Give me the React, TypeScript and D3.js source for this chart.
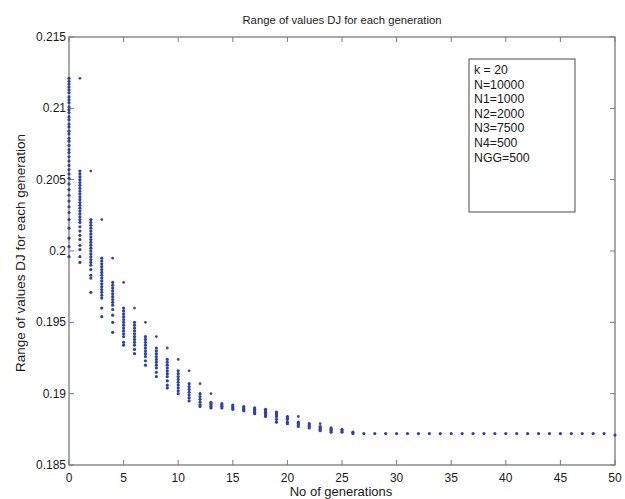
import React, { useEffect, useRef } from "react";
import * as d3 from "d3";

// ---------- data ----------
const titleText = "Range of values DJ for each generation";
const xLabelText = "No of generations";
const yLabelText = "Range of values DJ for each generation";
const legendLines = ["k = 20", "N=10000", "N1=1000", "N2=2000", "N3=7500", "N4=500", "NGG=500"];

const xTicks = [0, 5, 10, 15, 20, 25, 30, 35, 40, 45, 50];
const yTicks = [0.185, 0.19, 0.195, 0.2, 0.205, 0.21, 0.215];
const yTickLabels = ["0.185", "0.19", "0.195", "0.2", "0.205", "0.21", "0.215"];

// population values of DJ for each generation (index = generation)
const populationByGeneration: number[][] = [
  [0.2121, 0.2119, 0.2117, 0.2115, 0.2113, 0.2111, 0.2108, 0.2106, 0.2104, 0.2101, 0.2099, 0.2097, 0.2094, 0.2092, 0.2089, 0.2087, 0.2084, 0.2082, 0.2079, 0.2077, 0.2074, 0.2071, 0.2069, 0.2066, 0.2063, 0.2060, 0.2057, 0.2054, 0.2051, 0.2047, 0.2043, 0.2039, 0.2035, 0.2031, 0.2027, 0.2022, 0.2016, 0.2009, 0.2003, 0.1996],
  [0.2056, 0.2054, 0.2052, 0.2050, 0.2048, 0.2046, 0.2044, 0.2042, 0.2040, 0.2038, 0.2036, 0.2034, 0.2032, 0.2030, 0.2028, 0.2026, 0.2024, 0.2022, 0.2020, 0.2017, 0.2014, 0.2011, 0.2008, 0.2004, 0.2001, 0.1996, 0.1992],
  [0.2022, 0.2020, 0.2018, 0.2016, 0.2014, 0.2012, 0.2010, 0.2008, 0.2006, 0.2004, 0.2002, 0.2000, 0.1998, 0.1996, 0.1994, 0.1992, 0.1990, 0.1987, 0.1983, 0.1981, 0.1971],
  [0.1995, 0.1993, 0.1991, 0.1989, 0.1987, 0.1985, 0.1983, 0.1981, 0.1979, 0.1977, 0.1975, 0.1973, 0.1971, 0.1969, 0.1967, 0.1960, 0.1954],
  [0.1978, 0.1976, 0.1974, 0.1972, 0.1970, 0.1968, 0.1966, 0.1964, 0.1962, 0.1959, 0.1955, 0.1950, 0.1943],
  [0.1960, 0.1958, 0.1956, 0.1954, 0.1952, 0.1950, 0.1948, 0.1946, 0.1944, 0.1942, 0.1940, 0.1936, 0.1934],
  [0.1950, 0.1948, 0.1946, 0.1944, 0.1942, 0.1940, 0.1938, 0.1936, 0.1934, 0.1931, 0.1928],
  [0.1940, 0.1938, 0.1936, 0.1934, 0.1932, 0.1930, 0.1928, 0.1926, 0.1923, 0.1920],
  [0.1932, 0.1930, 0.1928, 0.1926, 0.1924, 0.1922, 0.1920, 0.1918, 0.1915, 0.1912],
  [0.1924, 0.1922, 0.1920, 0.1918, 0.1916, 0.1914, 0.1912, 0.1909, 0.1906, 0.1904],
  [0.1916, 0.1914, 0.1912, 0.1910, 0.1908, 0.1906, 0.1904, 0.1902, 0.1900],
  [0.1907, 0.1905, 0.1903, 0.1901, 0.1899, 0.1897, 0.1895],
  [0.1900, 0.1898, 0.1896, 0.1894, 0.1892, 0.1891],
  [0.1894, 0.1893, 0.1892, 0.1891, 0.1890],
  [0.1893, 0.1892, 0.1891, 0.1890],
  [0.1892, 0.1891, 0.1890, 0.1889],
  [0.1891, 0.1890, 0.1889, 0.1888],
  [0.1890, 0.1889, 0.1888, 0.1887, 0.1886],
  [0.1889, 0.1888, 0.1887, 0.1886, 0.1885, 0.1884],
  [0.1887, 0.1886, 0.1885, 0.1884, 0.1882, 0.1880],
  [0.1884, 0.1883, 0.1882, 0.1880, 0.1879],
  [0.1880, 0.1879, 0.1878, 0.1877],
  [0.1879, 0.1878, 0.1877, 0.1876],
  [0.1877, 0.1876, 0.1875, 0.1874],
  [0.1876, 0.1875, 0.1874, 0.1873],
  [0.1875, 0.1874, 0.1873],
  [0.1873, 0.1872],
  [0.1872], [0.1872], [0.1872], [0.1872], [0.1872], [0.1872], [0.1872], [0.1872],
  [0.1872], [0.1872], [0.1872], [0.1872], [0.1872], [0.1872], [0.1872], [0.1872],
  [0.1872], [0.1872], [0.1872], [0.1872], [0.1872], [0.1872], [0.1872],
  [0.1871],
];

// best individual carried into the next generation
const eliteGenerations = [1, 2, 3, 4, 5, 6, 7, 8, 9, 10, 11, 12, 13, 21, 23];
const eliteValues = [0.2121, 0.2056, 0.2022, 0.1995, 0.1978, 0.1960, 0.1950, 0.1940, 0.1932, 0.1924, 0.1916, 0.1907, 0.1900, 0.1884, 0.1879];

// ---------- chart ----------
const W = 625;
const H = 499;
const FONT = "'Liberation Sans', Arial, Helvetica, sans-serif";

export default function App() {
  const ref = useRef<SVGSVGElement | null>(null);

  useEffect(() => {
    const svg = d3.select(ref.current);
    svg.selectAll("*").remove();

    const x = d3.scaleLinear().domain([0, 50]).range([69, 615]);
    const y = d3.scaleLinear().domain([0.185, 0.215]).range([465, 37]);
    const [x0, x1] = x.range();
    const [y0, y1] = y.range();
    const axisColor = "#7a7a7a";
    const textColor = "#1a1a1a";

    svg.append("rect").attr("width", W).attr("height", H).attr("fill", "#ffffff");

    // frame
    svg.append("rect")
      .attr("x", x0).attr("y", y1)
      .attr("width", x1 - x0).attr("height", y0 - y1)
      .attr("fill", "none").attr("stroke", axisColor).attr("stroke-width", 1.3);

    const tickLen = 5;
    const ticksG = svg.append("g").attr("stroke", axisColor).attr("stroke-width", 1);
    xTicks.forEach((t) => {
      ticksG.append("line").attr("x1", x(t)).attr("x2", x(t)).attr("y1", y0).attr("y2", y0 - tickLen);
      ticksG.append("line").attr("x1", x(t)).attr("x2", x(t)).attr("y1", y1).attr("y2", y1 + tickLen);
    });
    yTicks.forEach((t) => {
      ticksG.append("line").attr("x1", x0).attr("x2", x0 + tickLen).attr("y1", y(t)).attr("y2", y(t));
      ticksG.append("line").attr("x1", x1).attr("x2", x1 - tickLen).attr("y1", y(t)).attr("y2", y(t));
    });

    // tick labels
    const lab = svg.append("g").attr("font-family", FONT).attr("font-size", 12).attr("fill", textColor);
    xTicks.forEach((t) => {
      lab.append("text").attr("x", x(t)).attr("y", y0 + 17).attr("text-anchor", "middle").text(String(t));
    });
    yTicks.forEach((t, i) => {
      lab.append("text").attr("x", x0 - 3).attr("y", y(t) + 4).attr("text-anchor", "end").text(yTickLabels[i]);
    });

    // titles
    svg.append("text")
      .attr("x", (x0 + x1) / 2).attr("y", 24)
      .attr("text-anchor", "middle").attr("font-family", FONT).attr("font-size", 11.3)
      .attr("fill", textColor).text(titleText);
    svg.append("text")
      .attr("x", (x0 + x1) / 2 - 1).attr("y", 496)
      .attr("text-anchor", "middle").attr("font-family", FONT).attr("font-size", 13)
      .attr("fill", textColor).text(xLabelText);
    svg.append("text")
      .attr("transform", `translate(25,${(y0 + y1) / 2 + 2}) rotate(-90)`)
      .attr("text-anchor", "middle").attr("font-family", FONT).attr("font-size", 13.5)
      .attr("fill", textColor).text(yLabelText);

    // points
    const pts: { g: number; v: number }[] = [];
    populationByGeneration.forEach((vals, g) => vals.forEach((v) => pts.push({ g, v })));
    svg.append("g").selectAll("circle").data(pts).join("circle")
      .attr("cx", (d) => x(d.g)).attr("cy", (d) => y(d.v)).attr("r", 1.6)
      .attr("fill", "#2f42a3");

    svg.append("g").selectAll("circle").data(eliteGenerations).join("circle")
      .attr("cx", (g) => x(g)).attr("cy", (_g, i) => y(eliteValues[i])).attr("r", 1.4)
      .attr("fill", "#5a3d8e");

    // legend box
    const lg = svg.append("g");
    lg.append("rect").attr("x", 469).attr("y", 59).attr("width", 106).attr("height", 153)
      .attr("fill", "#ffffff").attr("stroke", "#6a6a6a").attr("stroke-width", 1.2);
    legendLines.forEach((s, i) => {
      lg.append("text").attr("x", 474).attr("y", 74 + i * 14.6)
        .attr("font-family", FONT).attr("font-size", 12.3).attr("fill", textColor).text(s);
    });
  }, []);

  return (
    <svg
      ref={ref}
      width={W}
      height={H}
      style={{ position: "absolute", left: 0, top: 0, display: "block" }}
    />
  );
}
